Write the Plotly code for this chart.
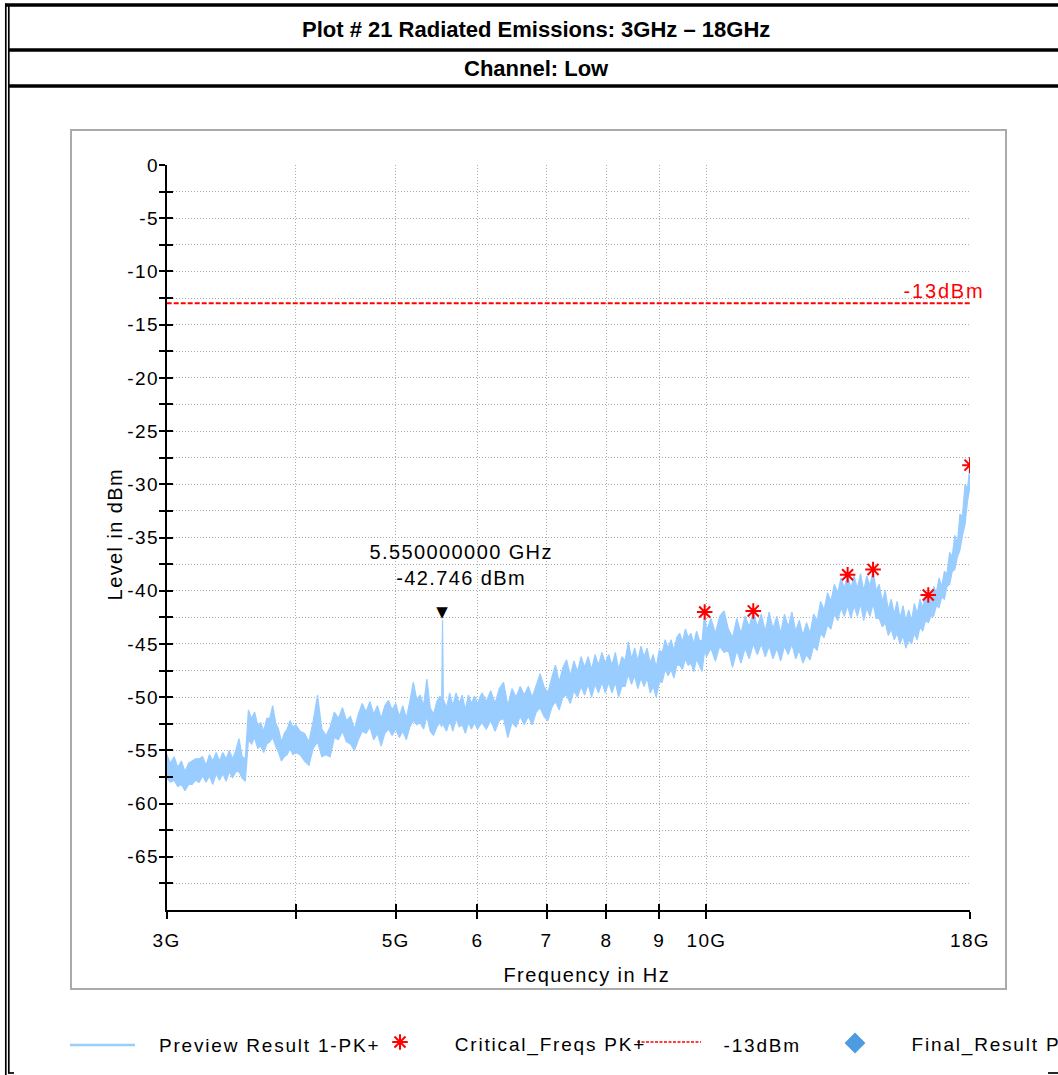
import math
import plotly.graph_objects as go

# ---- Preview Result 1-PK+ : per display column, frequency (GHz) with peak / trough level (dBm) ----
band_a_ghz = [3.000, 3.025, 3.050, 3.075, 3.100, 3.125, 3.150, 3.175, 3.200, 3.225,
              3.250, 3.275, 3.300, 3.325, 3.350, 3.375, 3.400, 3.425, 3.450, 3.475,
              3.500, 3.525, 3.550, 3.575, 3.600, 3.625, 3.650, 3.675, 3.700, 3.725,
              3.750, 3.775, 3.800, 3.825, 3.850, 3.875, 3.900, 3.925, 3.950, 3.975]
band_a_hi = [-55.4, -56.2, -55.6, -56.6, -56.0, -57.0, -56.2, -56.0, -55.8, -55.8,
             -55.6, -56.4, -55.4, -56.0, -55.2, -56.0, -55.2, -55.8, -55.0, -55.8,
             -55.0, -53.9, -55.6, -55.8, -51.2, -52.0, -51.4, -52.6, -52.4, -53.2,
             -52.0, -52.0, -50.8, -52.4, -53.0, -54.2, -53.4, -53.0, -52.2, -52.8]
band_a_lo = [-57.6, -58.0, -57.8, -58.4, -58.2, -58.8, -58.2, -58.2, -57.8, -58.0,
             -57.4, -58.0, -57.4, -58.2, -57.2, -57.8, -57.2, -57.9, -57.0, -57.6,
             -57.0, -57.0, -57.6, -57.9, -54.0, -54.4, -53.8, -54.8, -54.6, -55.2,
             -54.4, -54.2, -53.8, -54.6, -55.2, -56.0, -55.6, -55.4, -54.8, -55.4]

band_b_ghz = [4.00, 4.04, 4.08, 4.12, 4.16, 4.20, 4.24, 4.28, 4.32, 4.36,
              4.40, 4.44, 4.48, 4.52, 4.56, 4.60, 4.64, 4.68, 4.72, 4.76,
              4.80, 4.84, 4.88, 4.92, 4.96, 5.00, 5.04, 5.08, 5.12, 5.16,
              5.20, 5.24, 5.28, 5.32, 5.36, 5.40, 5.44, 5.48, 5.52, 5.54,
              5.55, 5.56, 5.60, 5.64, 5.68, 5.72, 5.76, 5.80, 5.84, 5.88,
              5.92, 5.96]
band_b_hi = [-52.6, -53.2, -53.4, -54.2, -52.2, -49.8, -53.0, -53.6, -52.8, -51.4,
             -52.0, -51.0, -52.2, -51.8, -53.0, -51.6, -50.6, -51.4, -50.4, -51.6,
             -50.8, -52.0, -50.8, -50.3, -51.2, -50.6, -51.8, -50.8, -52.0, -50.4,
             -48.6, -50.2, -49.8, -50.8, -48.3, -51.0, -51.6, -50.4, -49.9, -50.4,
             -42.746, -50.2, -51.0, -49.6, -50.8, -49.6, -50.6, -49.8, -51.2, -49.8,
             -50.6, -49.9]
band_b_lo = [-55.2, -55.4, -56.0, -56.4, -54.8, -54.2, -55.6, -55.4, -55.6, -53.8,
             -54.0, -53.2, -54.2, -54.4, -55.0, -54.0, -53.2, -53.4, -52.8, -54.0,
             -53.4, -54.6, -53.4, -53.0, -53.6, -53.0, -53.8, -53.2, -54.0, -52.8,
             -52.2, -52.6, -52.4, -53.0, -51.8, -53.2, -53.6, -52.8, -52.4, -52.8,
             -52.0, -52.6, -53.2, -52.2, -53.2, -52.0, -52.8, -52.6, -53.4, -52.4,
             -53.0, -52.4]

band_c_ghz = [6.00, 6.06, 6.12, 6.18, 6.24, 6.30, 6.36, 6.42, 6.48, 6.54,
              6.60, 6.66, 6.72, 6.78, 6.84, 6.90, 6.96, 7.02, 7.08, 7.14,
              7.20, 7.26, 7.32, 7.38, 7.44, 7.50, 7.56, 7.62, 7.68, 7.74,
              7.80, 7.86, 7.92, 7.98, 8.04, 8.10, 8.16, 8.22, 8.28, 8.34,
              8.40, 8.46, 8.52, 8.58, 8.64, 8.70, 8.76, 8.82, 8.88, 8.94,
              9.00, 9.06, 9.12, 9.18, 9.24, 9.30, 9.36, 9.42, 9.48, 9.54,
              9.60, 9.66, 9.72, 9.78, 9.84, 9.90, 9.96]
band_c_hi = [-50.6, -49.6, -50.4, -49.4, -50.6, -49.2, -48.6, -50.8, -49.2, -50.0,
             -49.0, -49.8, -49.0, -50.0, -48.8, -47.8, -49.0, -49.6, -48.2, -47.0,
             -48.6, -47.2, -46.5, -48.0, -46.6, -47.6, -46.2, -47.2, -46.2, -47.4,
             -46.0, -47.0, -45.8, -46.8, -46.0, -47.0, -45.8, -47.4, -46.2, -46.6,
             -44.8, -46.4, -45.4, -46.6, -45.2, -46.2, -45.4, -46.8, -46.0, -47.2,
             -45.6, -45.8, -44.6, -45.4, -44.6, -45.6, -44.4, -44.0, -44.8, -43.6,
             -44.4, -44.0, -45.0, -43.8, -44.6, -44.8, -42.0]
band_c_lo = [-53.0, -52.4, -53.0, -52.2, -53.2, -52.2, -52.0, -53.8, -52.4, -52.8,
             -51.8, -52.6, -51.8, -52.6, -51.4, -51.0, -51.8, -52.2, -51.0, -50.4,
             -51.2, -50.0, -49.8, -50.6, -49.4, -50.0, -49.0, -49.8, -48.8, -50.0,
             -48.8, -49.6, -48.6, -49.6, -48.6, -49.6, -48.6, -50.0, -49.0, -49.0,
             -47.8, -48.8, -48.0, -49.2, -48.2, -49.0, -48.2, -49.6, -49.0, -50.0,
             -48.6, -48.6, -47.4, -48.0, -47.4, -48.2, -47.0, -47.0, -47.4, -46.4,
             -47.0, -46.8, -47.6, -46.4, -47.0, -47.6, -45.6]

band_d_ghz = [10.0, 10.1, 10.2, 10.3, 10.4, 10.5, 10.6, 10.7, 10.8, 10.9,
              11.0, 11.1, 11.2, 11.3, 11.4, 11.5, 11.6, 11.7, 11.8, 11.9,
              12.0, 12.1, 12.2, 12.3, 12.4, 12.5, 12.6, 12.7, 12.8, 12.9,
              13.0, 13.1, 13.2, 13.3, 13.4, 13.5, 13.6, 13.7, 13.8, 13.9,
              14.0, 14.1, 14.2, 14.3, 14.4, 14.5, 14.6, 14.7, 14.8, 14.9,
              15.0, 15.1, 15.2, 15.3, 15.4, 15.5, 15.6, 15.7, 15.8, 15.9,
              16.0, 16.1, 16.2, 16.3, 16.4, 16.5, 16.6, 16.7, 16.8, 16.9,
              17.0, 17.1, 17.2, 17.3, 17.4, 17.5, 17.6, 17.7, 17.8, 17.9,
              18.0]
band_d_hi = [-43.8, -42.6, -44.0, -42.4, -41.9, -43.6, -44.4, -42.6, -44.0, -42.4,
             -43.4, -41.9, -43.4, -42.2, -43.8, -42.0, -43.6, -42.4, -44.0, -42.2,
             -43.4, -42.0, -43.8, -42.8, -44.2, -43.0, -44.0, -42.2, -42.8, -41.0,
             -41.8, -40.2, -41.0, -39.4, -40.2, -38.8, -39.8, -38.5, -39.8, -38.6,
             -39.8, -38.4, -40.0, -38.6, -39.6, -38.0, -40.0, -39.4, -41.0, -40.0,
             -41.8, -40.8, -42.2, -41.0, -42.6, -41.4, -42.8, -41.8, -42.8, -41.2,
             -42.2, -40.8, -41.6, -40.4, -40.4, -41.0, -39.6, -40.2, -38.8, -39.6,
             -38.2, -38.4, -36.4, -36.8, -34.8, -35.6, -32.8, -33.0, -30.0, -30.4,
             -28.2]
band_d_lo = [-46.2, -45.4, -46.6, -45.2, -45.8, -45.6, -47.2, -45.6, -46.8, -45.4,
             -46.4, -45.0, -46.0, -45.0, -46.2, -45.2, -46.4, -45.4, -46.6, -45.2,
             -46.0, -45.0, -46.4, -45.6, -46.8, -46.0, -46.5, -45.2, -45.6, -44.0,
             -44.4, -43.2, -43.6, -42.2, -42.8, -41.6, -42.4, -41.4, -42.6, -41.4,
             -42.4, -41.2, -42.8, -41.6, -42.4, -41.2, -42.6, -42.6, -43.4, -43.0,
             -44.2, -43.6, -44.6, -44.0, -45.0, -44.2, -45.4, -44.6, -45.0, -44.0,
             -44.6, -43.4, -43.8, -42.8, -43.0, -42.4, -42.4, -41.4, -41.6, -40.6,
             -40.8, -39.6, -39.4, -38.2, -38.0, -36.8, -36.2, -34.8, -33.8, -31.6,
             -30.2]

# ---- Critical_Freqs PK+ ----
crit_ghz = [9.96, 11.1, 13.7, 14.5, 16.4, 18.0]
crit_dbm = [-42.0, -41.9, -38.5, -38.0, -40.4, -28.2]

# ---- marker and limit ----
marker_ghz = 5.55
marker_dbm = -42.746
limit_dbm = -13
span_ghz = [3, 18]

# ---- axis ticks ----
x_tick_vals = [3, 4, 5, 6, 7, 8, 9, 10, 18]
x_tick_text = ["3G", "", "5G", "6", "7", "8", "9", "10G", "18G"]
y_tick_vals = [0, -2.5, -5, -7.5, -10, -12.5, -15, -17.5, -20, -22.5, -25, -27.5, -30, -32.5,
               -35, -37.5, -40, -42.5, -45, -47.5, -50, -52.5, -55, -57.5, -60, -62.5, -65, -67.5]
y_tick_text = ["0", "", "-5", "", "-10", "", "-15", "", "-20", "", "-25", "", "-30", "",
               "-35", "", "-40", "", "-45", "", "-50", "", "-55", "", "-60", "", "-65", ""]

W, H = 1058, 1075
FONT = "Liberation Sans, Arial, sans-serif"
TRACE_BLUE = "#99ccff"
RED = "#ff0000"
GRID = "#ababab"
XRANGE = [math.log10(span_ghz[0]), math.log10(span_ghz[1])]
SPACING = 1.4          # letter spacing of the instrument-style labels (px)
LEGEND_SPACING = 1.8

col_ghz = band_a_ghz + band_b_ghz + band_c_ghz + band_d_ghz
col_hi = band_a_hi + band_b_hi + band_c_hi + band_d_hi
col_lo = band_a_lo + band_b_lo + band_c_lo + band_d_lo

fig = go.Figure()

# noise band: peaks along the top edge, troughs back along the bottom edge
fig.add_trace(go.Scatter(
    x=col_ghz + col_ghz[::-1], y=col_hi + col_lo[::-1],
    mode="lines", fill="toself", fillcolor=TRACE_BLUE, name="Preview Result 1-PK+",
    line=dict(color=TRACE_BLUE, width=1.2), hoverinfo="skip"))

# limit line
fig.add_trace(go.Scatter(
    x=span_ghz, y=[limit_dbm, limit_dbm], mode="lines", name=f"{limit_dbm}dBm",
    line=dict(color=RED, width=2, dash="5px,2px"), hoverinfo="skip"))

# critical frequencies
fig.add_trace(go.Scatter(
    x=crit_ghz, y=crit_dbm, mode="markers", name="Critical_Freqs PK+",
    marker=dict(symbol="asterisk-open", size=13, color=RED, line=dict(color=RED, width=2)),
    hoverinfo="skip"))

# helper traces so the tick-crossing overlay axes get drawn
fig.add_trace(go.Scatter(x=[], y=[], xaxis="x3", yaxis="y", showlegend=False))
fig.add_trace(go.Scatter(x=[], y=[], xaxis="x", yaxis="y3", showlegend=False))

# legend symbols drawn on a full-page pixel layer
fig.add_trace(go.Scatter(
    x=[400], y=[1042], xaxis="x2", yaxis="y2", mode="markers",
    marker=dict(symbol="asterisk-open", size=13, color=RED, line=dict(color=RED, width=2)),
    hoverinfo="skip"))
fig.add_trace(go.Scatter(
    x=[855], y=[1043], xaxis="x2", yaxis="y2", mode="markers",
    marker=dict(symbol="diamond", size=16, color="#4d9be0", line=dict(width=0)),
    hoverinfo="skip"))

tick_font = dict(family=FONT, size=19, color="black")

fig.update_layout(
    template="none",
    width=W, height=H, autosize=False,
    margin=dict(l=0, r=0, t=0, b=0, pad=0, autoexpand=False),
    paper_bgcolor="white",
    plot_bgcolor="rgba(0,0,0,0)",
    showlegend=False,
    xaxis=dict(
        type="log", domain=[166.7 / W, 970 / W], range=XRANGE, anchor="y", automargin=False,
        tickmode="array", tickvals=x_tick_vals, ticktext=x_tick_text,
        ticks="outside", ticklen=7, tickwidth=2, tickcolor="black",
        ticklabelstandoff=5, tickfont=tick_font,
        showline=True, linecolor="black", linewidth=2,
        showgrid=True, gridcolor=GRID, gridwidth=1, griddash="1px,2px",
        zeroline=False, fixedrange=True),
    yaxis=dict(
        domain=[1 - 910 / H, 1 - 165 / H], range=[-70, 0], anchor="x", automargin=False,
        tickmode="array", tickvals=y_tick_vals, ticktext=y_tick_text,
        ticks="outside", ticklen=6, tickwidth=2, tickcolor="black",
        ticklabelstandoff=-4, tickfont=tick_font,
        showline=True, linecolor="black", linewidth=2,
        showgrid=True, gridcolor=GRID, gridwidth=1, griddash="1px,2px",
        zeroline=False, fixedrange=True),
    xaxis3=dict(
        type="log", overlaying="x", anchor="y", range=XRANGE, automargin=False,
        tickmode="array", tickvals=x_tick_vals, ticks="inside", ticklen=6,
        tickwidth=2, tickcolor="black", showticklabels=False,
        showgrid=False, showline=False, zeroline=False),
    yaxis3=dict(
        overlaying="y", anchor="x", range=[-70, 0], automargin=False,
        tickmode="array", tickvals=y_tick_vals, ticks="inside", ticklen=6,
        tickwidth=2, tickcolor="black", showticklabels=False,
        showgrid=False, showline=False, zeroline=False),
    xaxis2=dict(domain=[0, 1], range=[0, W], visible=False, anchor="y2",
                automargin=False, fixedrange=True),
    yaxis2=dict(domain=[0, 1], range=[H, 0], visible=False, anchor="x2",
                automargin=False, fixedrange=True),
)

# page frame, header rows and chart box (pixel layer)
frame = [
    dict(x0=5, y0=5, x1=W, y1=5, w=3.4),
    dict(x0=8.8, y0=50, x1=W, y1=50, w=3.4),
    dict(x0=8.8, y0=86, x1=W, y1=86, w=3.4),
    dict(x0=5.8, y0=3.5, x1=5.8, y1=H, w=1.7),
    dict(x0=8.8, y0=5, x1=8.8, y1=1073, w=1.7),
    dict(x0=8, y0=1073, x1=14, y1=1073, w=1.7),
    dict(x0=1048, y0=1073, x1=W, y1=1073, w=1.7),
]
for s in frame:
    fig.add_shape(type="line", xref="x2", yref="y2", x0=s["x0"], y0=s["y0"],
                  x1=s["x1"], y1=s["y1"], line=dict(color="black", width=s["w"]))

fig.add_shape(type="rect", xref="x2", yref="y2", x0=71, y0=130, x1=1006, y1=989,
              line=dict(color="#aaaaaa", width=2), fillcolor="rgba(0,0,0,0)", layer="below")

# legend line samples
fig.add_shape(type="line", xref="x2", yref="y2", x0=70, y0=1045, x1=135, y1=1045,
              line=dict(color=TRACE_BLUE, width=2.5))
fig.add_shape(type="line", xref="x2", yref="y2", x0=637, y0=1042, x1=701, y1=1042,
              line=dict(color=RED, width=1.5, dash="3px,1.5px"))

def page_text(text, x, y, size=20, color="black", xanchor="center", yanchor="middle",
              bold=False, angle=0, spacing=0.0):
    # spaced text grows about its centre, so left-anchored labels are nudged right
    if xanchor == "left":
        x += len(text) * spacing / 2
    fig.add_annotation(
        text=f"<b>{text}</b>" if bold else text, xref="x2", yref="y2", x=x, y=y,
        xanchor=xanchor, yanchor=yanchor, showarrow=False, textangle=angle,
        font=dict(family=FONT, size=size, color=color))

page_text("Plot # 21 Radiated Emissions: 3GHz \u2013 18GHz", 535.5, 29, size=22, bold=True)
page_text("Channel: Low", 536, 68, size=22, bold=True)
page_text("Level in dBm", 115, 534, angle=-90)
page_text("Frequency in Hz", 587, 975)

legend_labels = ["Preview Result 1-PK+", "Critical_Freqs PK+", f"{limit_dbm}dBm",
                 "Final_Result PK+"]
for label, lx in zip(legend_labels, [157, 453, 722, 910]):
    page_text(label, lx, 1045, size=19, xanchor="left", spacing=LEGEND_SPACING)

# marker readout
mx = math.log10(marker_ghz)
fig.add_annotation(x=mx, y=marker_dbm, xref="x", yref="y", text="\u25bc", showarrow=False,
                   yanchor="bottom", yshift=-3,
                   font=dict(family="DejaVu Sans", size=15, color="black"))
fig.add_annotation(x=mx, y=marker_dbm, xref="x", yref="y",
                   text=f"{marker_ghz:.9f} GHz<br>{marker_dbm:.3f} dBm",
                   showarrow=False, xanchor="center", yanchor="bottom", xshift=18, yshift=29,
                   font=dict(family=FONT, size=20, color="black"))

# limit label
limit_text = f"{limit_dbm}dBm"
fig.add_annotation(x=math.log10(span_ghz[1]), y=limit_dbm, xref="x", yref="y",
                   text=limit_text, showarrow=False, xanchor="right",
                   yanchor="bottom", xshift=15 - len(limit_text) * SPACING / 2, yshift=-1,
                   font=dict(family=FONT, size=20, color=RED))

page_js = """
document.documentElement.style.margin = '0';
document.documentElement.style.overflow = 'hidden';
document.body.style.margin = '0';
document.body.style.padding = '0';
document.body.style.overflow = 'hidden';
var gd = document.getElementById('{plot_id}');
var legendLabels = %s;
function spaceText() {
  gd.querySelectorAll('text').forEach(function (t) {
    var s = t.textContent;
    if (/^(Plot #|Channel:)/.test(s)) { return; }
    t.style.letterSpacing = (legendLabels.indexOf(s) >= 0 ? '%spx' : '%spx');
  });
}
spaceText();
setTimeout(spaceText, 50);
setTimeout(spaceText, 300);
gd.on && gd.on('plotly_afterplot', spaceText);
""" % (str(legend_labels).replace("'", '"'), LEGEND_SPACING, SPACING)

fig.write_html("out.html", post_script=page_js, config={"displayModeBar": False})
